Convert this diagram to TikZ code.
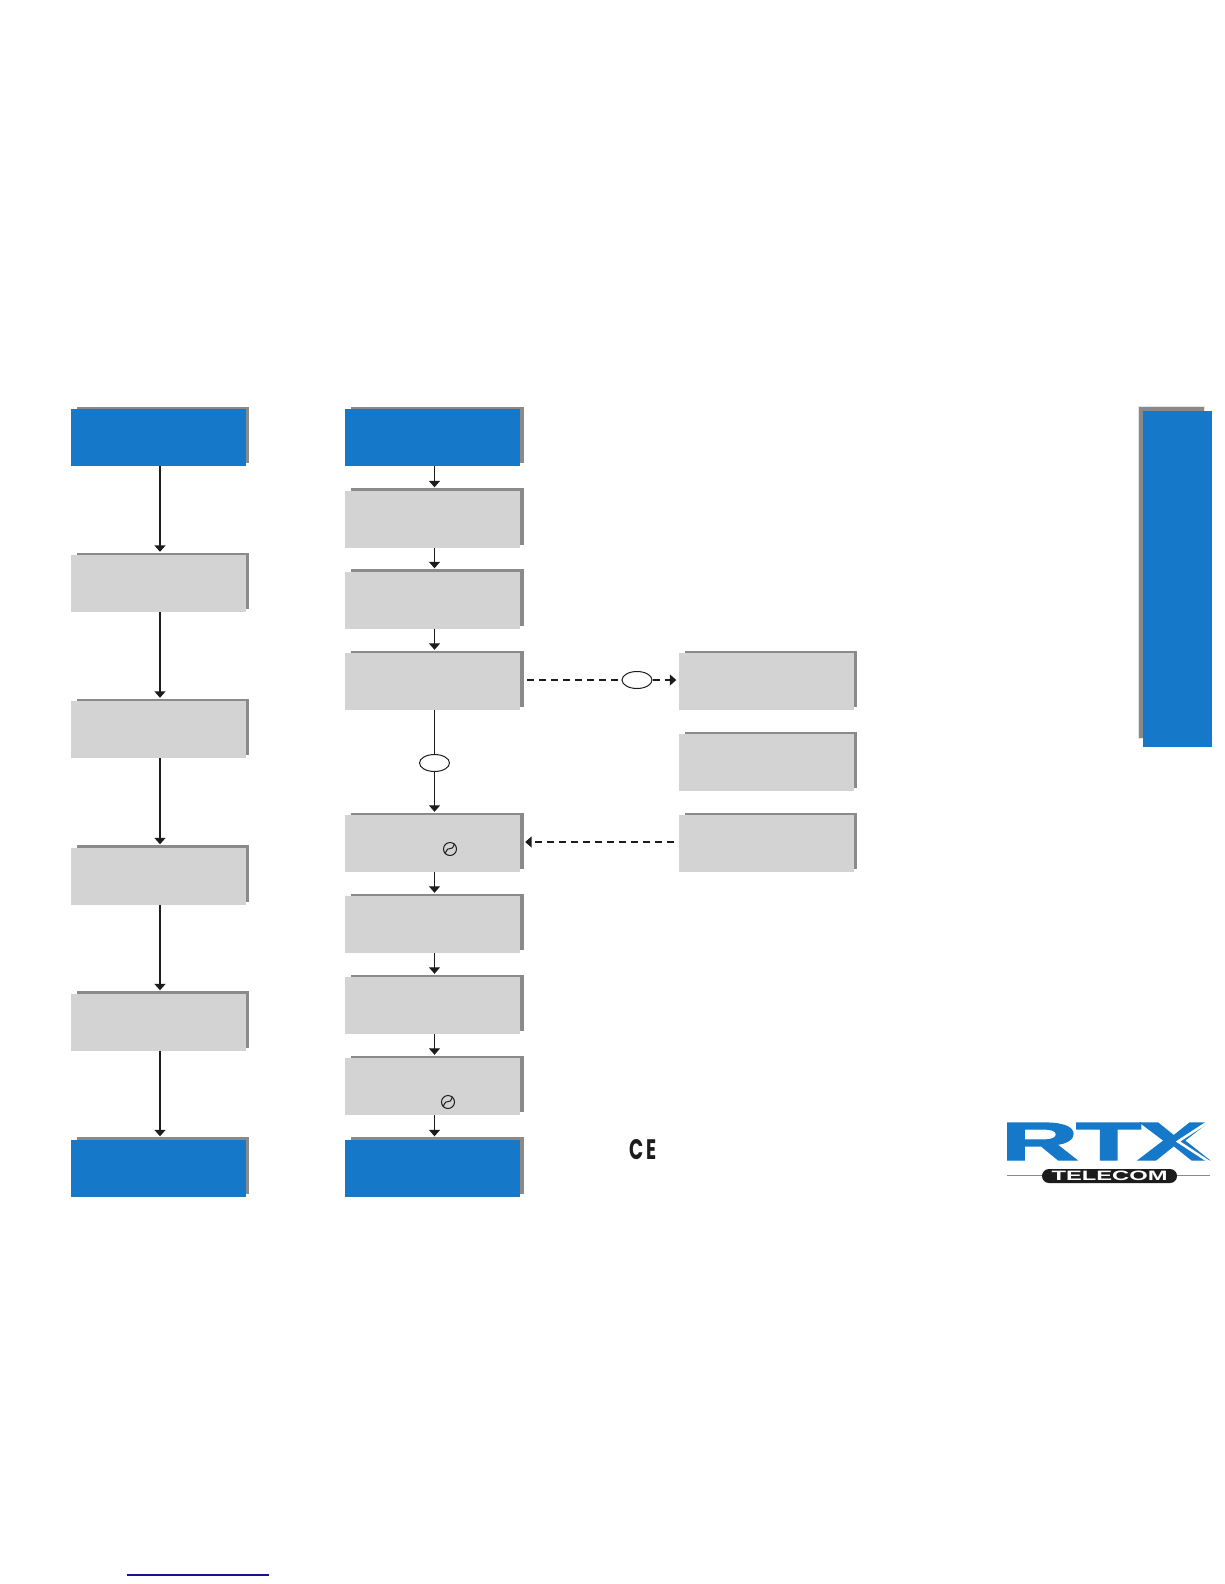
\documentclass[tikz,border=0pt]{standalone}
\usepackage{fontspec}
\usepackage{graphicx}
\setmainfont{Liberation Sans}
\newfontfamily\cefont{Poppins}
\newfontfamily\logofont[FakeBold=2.2]{Liberation Sans Bold}
\usetikzlibrary{arrows.meta,shadows,shapes.geometric}
\definecolor{rtxblue}{HTML}{1578C8}
\definecolor{boxgray}{HTML}{D3D3D3}
\definecolor{edgegray}{HTML}{8A8A8A}
\definecolor{linknavy}{HTML}{14148C}
\definecolor{inkblack}{HTML}{1C1C1C}
\begin{document}
\begin{tikzpicture}[x=1pt,y=-1pt,
  plate/.style={rectangle, inner sep=0pt, minimum width=175pt, minimum height=57pt,
    general shadow={fill=edgegray, shadow xshift=5pt, shadow yshift=2.5pt, shadow scale=0.985}},
  stepbox/.style={plate, fill=boxgray},
  endbox/.style={plate, fill=rtxblue},
  arr/.style={draw=inkblack, line width=1.3pt, -{Triangle[width=11pt,length=6.5pt]}, shorten >=3pt},
  arrdash/.style={arr, dash pattern=on 7pt off 5pt, line width=1.5pt},
  oval/.style={draw=inkblack, line width=1pt, fill=white, ellipse, inner sep=0pt, minimum width=30pt, minimum height=17pt},
  pwr/.style={draw=inkblack, line width=1pt, circle, inner sep=0pt, minimum size=13pt}
]
\useasboundingbox (0,0) rectangle (1224,1584);
\fill[white] (0,0) rectangle (1224,1584);

% side tab
\node[draw=black!10, line width=1pt, fill=edgegray, inner sep=0pt, minimum width=66pt, minimum height=332pt] (tabshade) at (1171,572) {};
\node[fill=rtxblue, inner sep=0pt, minimum width=69pt, minimum height=336pt] (tab) at (1177.5,579) {};

% left column
\node[endbox] (a1) at (158,437.5) {};
\node[stepbox] (a2) at (158,583.5) {};
\node[stepbox] (a3) at (158,729.5) {};
\node[stepbox] (a4) at (158,876) {};
\node[stepbox] (a5) at (158,1022) {};
\node[endbox] (a6) at (158,1168) {};

% middle column
\node[endbox] (b1) at (432.5,437.5) {};
\node[stepbox] (b2) at (432.5,519) {};
\node[stepbox] (b3) at (432.5,600) {};
\node[stepbox] (b4) at (432.5,681.5) {};
\node[stepbox] (b5) at (432.5,843.5) {};
\node[stepbox] (b6) at (432.5,924.5) {};
\node[stepbox] (b7) at (432.5,1005.5) {};
\node[stepbox] (b8) at (432.5,1086.5) {};
\node[endbox] (b9) at (432.5,1168) {};

% right column
\node[stepbox] (c1) at (766,681.5) {};
\node[stepbox] (c2) at (766,762.5) {};
\node[stepbox] (c3) at (766,843.5) {};

\node[oval] (ovaldown) at (434.5,763) {};
\node[oval] (ovalright) at (637,680) {};
\coordinate (lowdash) at (600,842);
\coordinate (leftaxis) at (160,0);
\coordinate (midaxis) at (434.5,0);

% arrows
\foreach \p/\q in {a1/a2,a2/a3,a3/a4,a4/a5,a5/a6}
  \draw[arr, line width=1.6pt] (leftaxis |- \p.south) -- (leftaxis |- \q.north);
\foreach \p/\q in {b1/b2,b2/b3,b3/b4,b5/b6,b6/b7,b7/b8,b8/b9}
  \draw[arr] (midaxis |- \p.south) -- (midaxis |- \q.north);
\draw[draw=inkblack, line width=1.3pt] (midaxis |- b4.south) -- (ovaldown);
\draw[arr] (ovaldown) -- (midaxis |- b5.north);
\draw[arrdash, -, shorten <=7pt, shorten >=0pt] (b4.east |- ovalright) -- (ovalright);
\draw[arrdash, shorten >=2pt] (ovalright) -- (c1.west |- ovalright);
\draw[arrdash, shorten <=4pt, shorten >=5pt] (c3.west |- lowdash) -- (b5.east |- lowdash);

% power signs
\node[pwr] (pwa) at (450,849) {};
\node[pwr] (pwb) at (448,1102) {};
\foreach \s in {pwa,pwb}
  \draw[inkblack, line width=1pt] (\s.225) .. controls ([xshift=-1pt,yshift=6pt]\s.center) and ([xshift=1pt,yshift=-5pt]\s.center) .. (\s.50);

% marks
\node[inner sep=0pt, text=inkblack] (ce) at (643,1149.5) {\resizebox{28pt}{20pt}{\cefont\bfseries C\kern.2em E}};

% logo
\node[inner sep=0pt, text=rtxblue, anchor=west] (rtx) at (1001,1141.5) {\resizebox{208pt}{37pt}{\logofont R\kern-.02em T\kern-.03em X}};
\draw[white, line width=2.5pt] (1214,1118) -- (1178,1141.5) -- (1214,1165);
\coordinate (ruleL) at (1007,1175.5);
\coordinate (ruleR) at (1210,1175.5);
\draw[edgegray, line width=1.3pt] (ruleL) -- (ruleR);
\node[fill=inkblack, rounded corners=7pt, inner sep=0pt, minimum width=135pt, minimum height=14pt, text=white] (telecom) at (1109.5,1176)
  {\resizebox{116pt}{9.5pt}{\bfseries TELECOM}};

\coordinate (linkL) at (127,1575);
\coordinate (linkR) at (269,1575);
\draw[linknavy, line width=1.2pt] (linkL) -- (linkR);
\end{tikzpicture}
\end{document}
